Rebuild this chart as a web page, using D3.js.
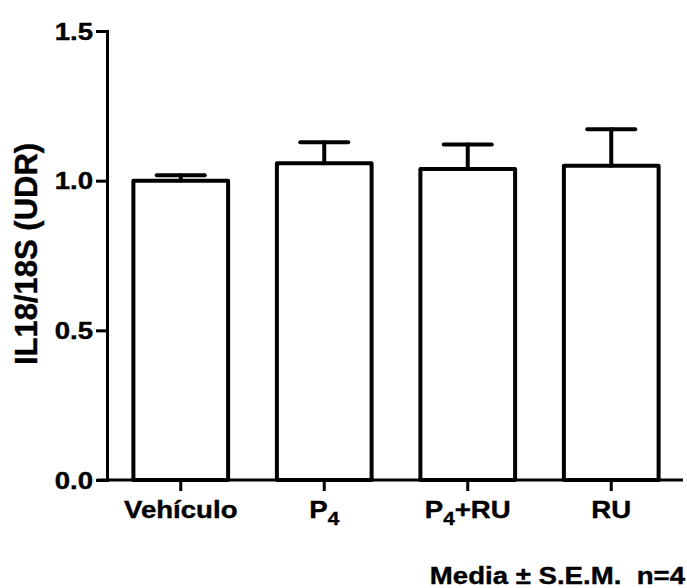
<!DOCTYPE html>
<html>
<head>
<meta charset="utf-8">
<script src="https://cdn.jsdelivr.net/npm/d3@7"></script>
<style>
  html, body { margin: 0; padding: 0; background: #fff; }
  svg { display: block; }
  text { font-family: "Liberation Sans", Arial, sans-serif; font-weight: bold; fill: #000; white-space: pre; }
</style>
</head>
<body>
<svg id="chart" width="687" height="588"></svg>
<script>
// ---- data ----
const categories = ["Vehículo", "P4", "P4+RU", "RU"];
const labelMain = ["Vehículo", "P", "P", "RU"];
const labelSub = ["", "4", "4", ""];
const labelRest = ["", "", "+RU", ""];
const means = [1.00, 1.058, 1.039, 1.050];
const sems = [0.018, 0.070, 0.082, 0.122];
const yTicks = [0.0, 0.5, 1.0, 1.5];
const yTitle = "IL18/18S (UDR)";
const footnote = "Media \u00B1 S.E.M.  n=4";

const sx = 1.15; // horizontal stretch of text in reference
const svg = d3.select("#chart");

const y = d3.scaleLinear().domain([0, 1.5]).range([480, 31]);
const x = d3.scaleBand().domain(categories).range([109, 683])
  .paddingInner(0.34).paddingOuter(0.17);

// bars
svg.append("g").selectAll("rect").data(categories).join("rect")
  .attr("x", d => x(d))
  .attr("y", (d, i) => y(means[i]))
  .attr("width", x.bandwidth())
  .attr("height", (d, i) => y(0) - y(means[i]))
  .attr("fill", "#fff").attr("stroke", "#000").attr("stroke-width", 4)
  .attr("stroke-linejoin", "round");

// error bars (upper only)
const eb = svg.append("g").attr("stroke", "#000").attr("stroke-width", 4).attr("stroke-linecap", "round");
categories.forEach((c, i) => {
  const cx = x(c) + x.bandwidth() / 2;
  eb.append("line").attr("x1", cx).attr("x2", cx)
    .attr("y1", y(means[i])).attr("y2", y(means[i] + sems[i]));
  eb.append("line").attr("x1", cx - 24).attr("x2", cx + 24)
    .attr("y1", y(means[i] + sems[i])).attr("y2", y(means[i] + sems[i]));
});

// y axis
const yAxis = svg.append("g").attr("transform", "translate(107,0)")
  .call(d3.axisLeft(y).tickValues(yTicks).tickFormat(d3.format(".1f"))
    .tickSize(11).tickSizeOuter(11).tickPadding(4));
yAxis.select(".domain").attr("stroke-width", 3);
yAxis.selectAll(".tick line").attr("stroke-width", 3);
yAxis.selectAll(".tick text")
  .attr("font-size", 24).attr("font-family", "Liberation Sans, Arial, sans-serif")
  .attr("font-weight", "bold").attr("stroke", "#000").attr("stroke-width", 0.4)
  .attr("x", null).attr("dy", null)
  .attr("transform", `translate(-14,8) scale(${sx},1)`);

// x axis
const xAxis = svg.append("g").attr("transform", "translate(0,480)")
  .call(d3.axisBottom(x).tickSize(11).tickSizeOuter(0).tickFormat(""));
xAxis.select(".domain").attr("stroke-width", 3).attr("d", "M97,0H683");
xAxis.selectAll(".tick line").attr("stroke-width", 3);
xAxis.selectAll(".tick").each(function(d, i) {
  const g = d3.select(this);
  g.select("text").remove();
  const t = g.append("text").attr("text-anchor", "middle")
    .attr("font-size", 24).attr("stroke", "#000").attr("stroke-width", 0.4)
    .attr("transform", `translate(0,38) scale(${sx},1)`);
  t.append("tspan").text(labelMain[i]);
  if (labelSub[i]) t.append("tspan").attr("font-size", 18).attr("dy", 7).text(labelSub[i]);
  if (labelRest[i]) t.append("tspan").attr("dy", -7).text(labelRest[i]);
});

// y title
svg.append("text").attr("text-anchor", "middle").attr("font-size", 31)
  .attr("stroke", "#000").attr("stroke-width", 0.4)
  .attr("transform", "translate(37,254) rotate(-90)")
  .text(yTitle);

// footnote
svg.append("text").attr("text-anchor", "end").attr("font-size", 24)
  .attr("stroke", "#000").attr("stroke-width", 0.4)
  .attr("transform", `translate(685,584) scale(${sx},1)`)
  .text(footnote);
</script>
</body>
</html>
